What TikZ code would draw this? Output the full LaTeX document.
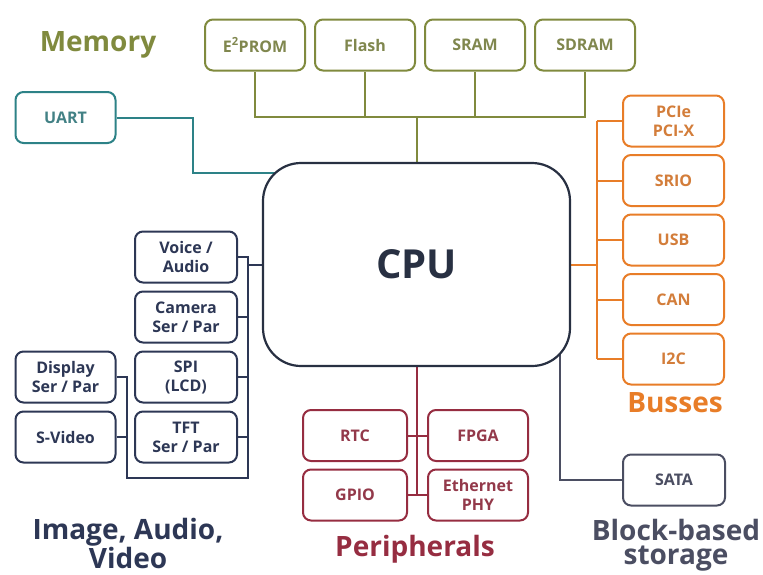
\documentclass[tikz,border=0pt]{standalone}
\usepackage{fontspec}
\setmainfont{Open Sans}
\usepackage{tikz}
\usetikzlibrary{backgrounds}

\definecolor{memcol}{RGB}{128,138,62}
\definecolor{uartcol}{RGB}{45,130,135}
\definecolor{cpucol}{RGB}{40,48,66}
\definecolor{buscol}{RGB}{232,125,40}
\definecolor{percol}{RGB}{150,45,65}
\definecolor{imgcol}{RGB}{45,55,85}
\definecolor{stocol}{RGB}{75,78,98}

\begin{document}
\begin{tikzpicture}[x=1pt, y=-1pt,
        box/.style={draw, line width=2pt, rounded corners=8pt, fill=white,
            minimum width=100pt, minimum height=51pt, inner sep=2pt, align=center,
            font=\fontsize{16}{19}\selectfont\bfseries},
        membox/.style={box, draw=memcol, text=memcol!75!gray},
        uartbox/.style={box, draw=uartcol, text=uartcol!75!gray},
        busbox/.style={box, draw=buscol, text=buscol!80!gray},
        imgbox/.style={box, draw=imgcol, text=imgcol},
        perbox/.style={box, draw=percol, text=percol!85!gray},
        stobox/.style={box, draw=stocol, text=stocol},
        title/.style={font=\fontsize{28}{24}\selectfont\bfseries, align=center},
        wire/.style={line width=2pt}]
    \useasboundingbox (0,0) rectangle (763,574);
    % CPU
    \node [draw=cpucol, line width=2.2pt, rounded corners=38pt, fill=white,
        minimum width=307pt, minimum height=203pt, text=cpucol,
        font=\fontsize{40}{40}\selectfont\bfseries] (cpu) at (416.5,264.5) {CPU};
    % memory
    \foreach \name/\txt [count=\i from 0] in {eprom/E\textsuperscript{2}PROM, flash/Flash, sram/SRAM, sdram/SDRAM}
        \node [membox] (\name) at (255+110*\i, 45) {\txt};
    \node [title, text=memcol] (memlbl) at (98,45) {Memory};
    % uart
    \node [uartbox] (uart) at (65.5,117.5) {UART};
    % busses
    \foreach \name/\txt [count=\i from 0] in {pci/{PCIe\\PCI-X}, srio/SRIO, usb/USB, can/CAN, itwoc/I2C}
        \node [busbox, minimum width=101pt] (\name) at (673.5, 121+59.5*\i) {\txt};
    \node [title, text=buscol] (buslbl) at (675,403) {Busses};
    % image, audio, video
    \foreach \name/\txt [count=\i from 0] in {voice/{Voice /\\Audio}, camera/{Camera\\Ser / Par}, spi/{SPI\\(LCD)}, tft/{TFT\\Ser / Par}}
        \node [imgbox, minimum width=102pt] (\name) at (186, 257+60*\i) {\txt};
    \node [imgbox] (display) at (65.5,377) {Display\\Ser / Par};
    \node [imgbox] (svideo) at (65.5,437) {S-Video};
    \node [title, text=imgcol] (imglbl) at (128,543) {Image, Audio,\\Video};
    % peripherals
    \node [perbox, minimum width=104pt] (rtc) at (355,435.5) {RTC};
    \node [perbox] (fpga) at (478,435.5) {FPGA};
    \node [perbox, minimum width=104pt] (gpio) at (355,495) {GPIO};
    \node [perbox] (ether) at (478,495) {Ethernet\\PHY};
    \node [title, text=percol] (perlbl) at (415,549) {Peripherals};
    % storage
    \node [stobox, minimum width=102pt] (sata) at (674,480) {SATA};
    \node [title, text=stocol] (stolbl) at (676,545) {Block-based\\storage};

    \begin{scope}[on background layer]
        \coordinate (membus) at (416.5,117);
        \draw [wire, memcol] (eprom.south) |- (membus) -| (sdram.south);
        \foreach \name in {flash, sram}
            \draw [wire, memcol] (\name.south) -- (\name.south |- membus);
        \draw [wire, memcol] (membus) -- (cpu.north);

        \coordinate (uartbend) at (193,173);
        \draw [wire, uartcol] (uart.east) -| (uartbend) -- (uartbend -| cpu.center);

        \coordinate (busbar) at (597,265);
        \draw [wire, buscol] (cpu.east) -- (cpu.east -| busbar);
        \draw [wire, buscol] (pci.west -| busbar) -- (itwoc.west -| busbar);
        \foreach \name in {pci, srio, usb, can, itwoc}
            \draw [wire, buscol] (\name.west) -- (\name.west -| busbar);

        \coordinate (imgbar) at (248,478);
        \coordinate (dispbar) at (127,478);
        \draw [wire, imgcol] (voice.east) -| (imgbar) -- (dispbar) |- (display.east);
        \foreach \name in {camera, spi, tft}
            \draw [wire, imgcol] (\name.east) -- (\name.east -| imgbar);
        \draw [wire, imgcol] (svideo.east) -- (svideo.east -| dispbar);
        \draw [wire, imgcol] (imgbar |- cpu.west) -- (cpu.west);

        \draw [wire, percol] (cpu.south) -- (cpu.south |- gpio.east);
        \foreach \name in {rtc, gpio}
            \draw [wire, percol] (\name.east) -- (\name.east -| cpu.south);
        \foreach \name in {fpga, ether}
            \draw [wire, percol] (\name.west) -- (\name.west -| cpu.south);

        \coordinate (satatap) at (560,300);
        \draw [wire, stocol] (sata.west) -| (satatap);
    \end{scope}
\end{tikzpicture}
\end{document}
